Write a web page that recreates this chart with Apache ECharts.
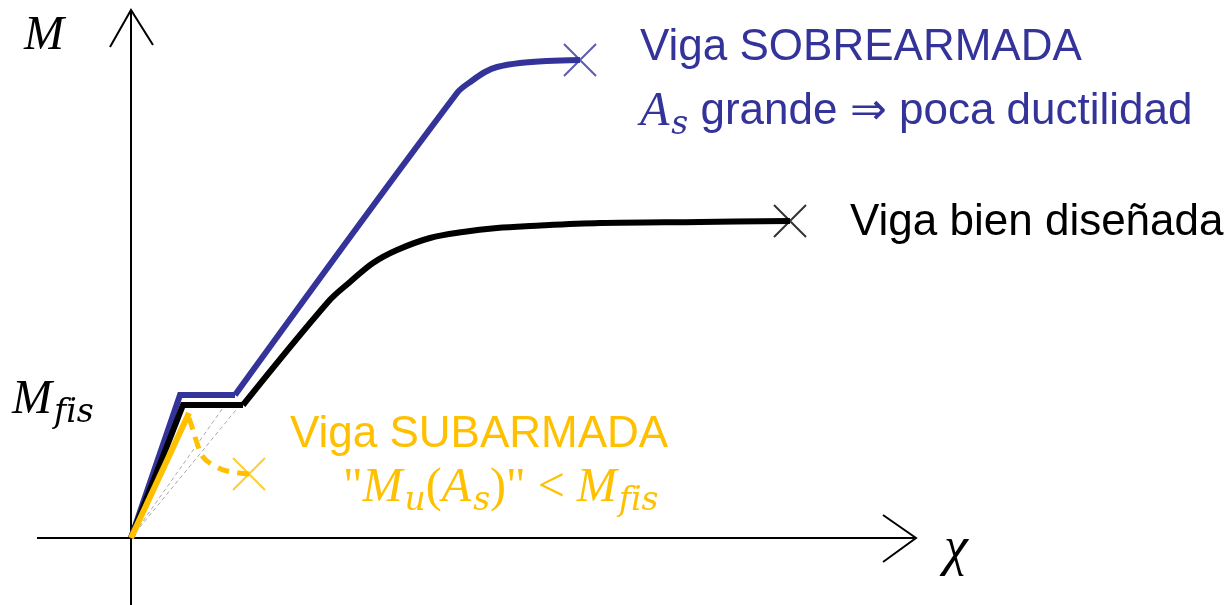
<!DOCTYPE html>
<html lang="es">

<head>
    <meta charset="UTF-8">
    <title>Momento - curvatura</title>
    <style>
        html, body { margin: 0; padding: 0; background: #fff; }
        #main { width: 1226px; height: 605px; }
    </style>
</head>

<body>
    <div id="main"></div>

    <script src="https://cdn.jsdelivr.net/npm/echarts@6/dist/echarts.min.js"></script>
    <script>
        // unidades: 1 unidad = 1 px, origen en la intersección de los ejes
        const ejeM = [[0, -67], [0, 528]];
        const flechaM = [[-21, 491], [0, 528], [22, 493]];
        const ejeChi = [[-94, 0], [785, 0]];
        const flechaChi = [[752, 23], [785, 0], [752, -24]];

        // viga sobrearmada (azul)
        const sobreRecta = [[0, 0], [49, 143], [104, 143]];
        const sobreCurva = [[104, 143], [326, 445], [342, 458], [354, 466], [366, 471], [389, 475], [416, 477], [449, 478]];
        const sobreRotura = [[449, 478]];

        // viga bien diseñada (negro)
        const bienRecta = [[0, 0], [52, 133], [112, 133]];
        const bienCurva = [[112, 133], [197, 236], [219, 256], [242, 275], [266, 288], [299, 300], [332, 306], [366, 310],
            [399, 312], [469, 315], [569, 316], [659, 317]];
        const bienRotura = [[659, 317]];

        // viga subarmada (amarillo)
        const subRecta = [[0, 0], [58, 125]];
        const subCaida = [[58, 120], [61, 111], [66, 95], [72, 81], [82, 73], [96, 67], [118, 64]];
        const subRotura = [[118, 64]];

        // secantes grises
        const secante1 = [[0, 0], [109, 133]];
        const secante2 = [[0, 0], [94, 133]];

        const AZUL = '#333399';
        const AMARILLO = '#FFC000';
        const SANS = '"Liberation Sans", Arial, sans-serif';
        const SERIF = '"Liberation Serif", "Times New Roman", serif';
        const SUBF = '"DejaVu Serif", serif';

        function linea(data, color, width, extra) {
            let s = {
                type: 'line',
                data: data,
                symbol: 'none',
                silent: true,
                animation: false,
                lineStyle: { color: color, width: width, join: 'miter', cap: 'butt' },
                z: 2
            };
            for (let k in (extra || {})) s[k] = extra[k];
            return s;
        }

        function cruz(data, color) {
            return {
                type: 'scatter',
                data: data,
                symbol: 'path://M0,0L10,10M10,0L0,10',
                symbolSize: 32,
                silent: true,
                animation: false,
                itemStyle: { color: 'none', borderColor: color, borderWidth: 2 },
                z: 5
            };
        }

        const mathRich = function (color) {
            return {
                m: { fontFamily: SERIF, fontStyle: 'italic', fontSize: 48, fill: color },
                s: { fontFamily: SUBF, fontStyle: 'italic', fontSize: 33, fill: color, padding: [26, 0, 0, 2] },
                p: { fontFamily: SERIF, fontSize: 48, fill: color },
                t: { fontFamily: SANS, fontSize: 44, fill: color }
            };
        };

        let chart = echarts.init(document.getElementById('main'));
        chart.setOption({
            backgroundColor: '#fff',
            animation: false,
            grid: { left: 0, right: 0, top: 0, bottom: 0 },
            xAxis: { type: 'value', min: -131, max: 1095, show: false },
            yAxis: { type: 'value', min: -67, max: 538, show: false },
            series: [
                linea(ejeM, '#000', 2),
                linea(flechaM, '#000', 2),
                linea(ejeChi, '#000', 2),
                linea(flechaChi, '#000', 2),
                linea(secante1, '#aaa', 1, { lineStyle: { color: '#aaa', width: 1, type: [4, 3] } }),
                linea(secante2, '#aaa', 1, { lineStyle: { color: '#aaa', width: 1, type: [4, 3] } }),
                linea(sobreRecta, AZUL, 6),
                linea(sobreCurva, AZUL, 6, { smooth: 0.35 }),
                linea(bienRecta, '#000', 6),
                linea(bienCurva, '#000', 6, { smooth: 0.35 }),
                linea(subRecta, AMARILLO, 6),
                linea(subCaida, AMARILLO, 5, {
                    smooth: 0.4,
                    lineStyle: { color: AMARILLO, width: 5, type: [12, 8] }
                }),
                cruz(sobreRotura, AZUL),
                cruz(bienRotura, '#000'),
                cruz(subRotura, AMARILLO)
            ],
            graphic: [
                { type: 'text', x: 24, y: 36, style: { text: 'M', font: 'italic 48px ' + SERIF, fill: '#000', verticalAlign: 'middle' } },
                { type: 'text', x: 944, y: 550, style: { text: 'χ', font: 'italic 54px ' + SERIF, fill: '#000', verticalAlign: 'middle' } },
                {
                    type: 'text', x: 12, y: 400,
                    style: { text: '{m|M}{s|fis}', rich: mathRich('#000'), verticalAlign: 'middle' }
                },
                { type: 'text', x: 640, y: 48, style: { text: 'Viga SOBREARMADA', font: '44px ' + SANS, fill: AZUL, verticalAlign: 'middle' } },
                {
                    type: 'text', x: 640, y: 112,
                    style: { text: '{m|A}{s|s}{t| grande ⇒ poca ductilidad}', rich: mathRich(AZUL), verticalAlign: 'middle' }
                },
                { type: 'text', x: 850, y: 223, style: { text: 'Viga bien diseñada', font: '44px ' + SANS, fill: '#000', verticalAlign: 'middle' } },
                { type: 'text', x: 290, y: 435, style: { text: 'Viga SUBARMADA', font: '44px ' + SANS, fill: AMARILLO, verticalAlign: 'middle' } },
                {
                    type: 'text', x: 343, y: 488,
                    style: { text: '{p|"}{m|M}{s|u}{p|(}{m|A}{s|s}{p|)" < }{m|M}{s|fis}', rich: mathRich(AMARILLO), verticalAlign: 'middle' }
                }
            ]
        });
    </script>
</body>

</html>
